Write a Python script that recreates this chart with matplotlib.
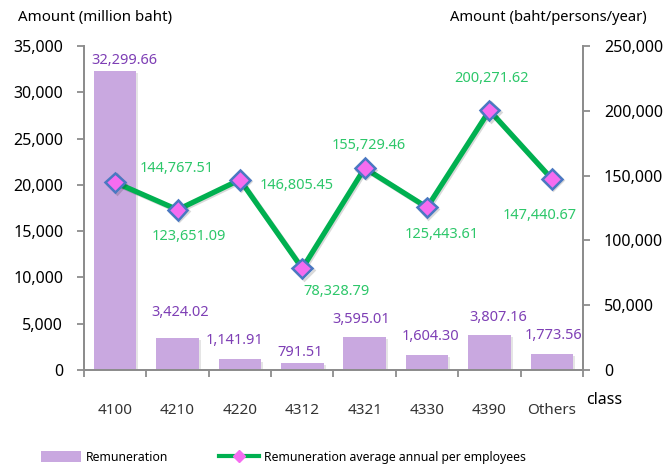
import matplotlib
matplotlib.use("Agg")
import matplotlib.pyplot as plt
import matplotlib.patheffects as pe
from matplotlib.lines import Line2D
from matplotlib.patches import Patch
import numpy as np

# data
classes = ["4100", "4210", "4220", "4312", "4321", "4330", "4390", "Others"]
remuneration = [32299.66, 3424.02, 1141.91, 791.51, 3595.01, 1604.30, 3807.16, 1773.56]
avg_per_employee = [144767.51, 123651.09, 146805.45, 78328.79, 155729.46,
                    125443.61, 200271.62, 147440.67]

# label placement relative to the mark, in pixels (dx right, dy up)
bar_label_offsets = [(9, 10), (3, 26), (-5, 19), (-2, 10), (-3, 17), (3, 19), (9, 17), (2, 18)]
line_label_offsets = [(62, 14), (11, -27), (57, -6), (34, -23), (4, 23), (15, -27), (2, 32), (-12, -37)]

bar_color = "#C9A8E0"
bar_text = "#7E3FB5"
line_color = "#00B050"
line_text = "#2DC76A"
spine_gray = "#8C8C8C"
PX = 0.72  # points per pixel at dpi 100

plt.rcParams["font.family"] = ["Noto Sans", "DejaVu Sans"]

fig = plt.figure(figsize=(6.64, 4.67), dpi=100)
ax = fig.add_axes([0.1265, 0.2077, 0.7515, 0.6938])
ax2 = ax.twinx()

x = np.arange(len(classes))
bars = ax.bar(x, remuneration, width=0.68, color=bar_color, zorder=2)
for b in bars:
    b.set_path_effects([pe.SimplePatchShadow(offset=(1.5, -1.5), alpha=0.25, shadow_rgbFace="#999999"),
                        pe.Normal()])

for xi, v, (dx, dy) in zip(x, remuneration, bar_label_offsets):
    ax.annotate(f"{v:,.2f}", (xi, v), xytext=(dx * PX, dy * PX), textcoords="offset points",
                ha="center", va="center", color=bar_text, fontsize=10.5)

ax2.plot(x, avg_per_employee, color=line_color, lw=3.8, marker="D", markersize=10,
         markerfacecolor="#F56CF0", markeredgecolor="#4A78C2", markeredgewidth=1.8, zorder=3,
         path_effects=[pe.SimpleLineShadow(offset=(1, -1), alpha=0.15), pe.Normal()])
for xi, v, (dx, dy) in zip(x, avg_per_employee, line_label_offsets):
    ax2.annotate(f"{v:,.2f}", (xi, v), xytext=(dx * PX, dy * PX), textcoords="offset points",
                 ha="center", va="center", color=line_text, fontsize=10.5)

ax.set_xlim(-0.5, len(classes) - 0.5)
ax.set_ylim(0, 35000)
ax2.set_ylim(0, 250000)
ax.set_yticks(np.arange(0, 35001, 5000))
ax2.set_yticks(np.arange(0, 250001, 50000))
ax.yaxis.set_major_formatter(matplotlib.ticker.StrMethodFormatter("{x:,.0f}"))
ax2.yaxis.set_major_formatter(matplotlib.ticker.StrMethodFormatter("{x:,.0f}"))

ax.set_xticks(x)
ax.set_xticklabels(classes)
ax.set_xticks(np.arange(-0.5, len(classes), 1), minor=True)
ax.tick_params(axis="x", which="major", length=0, pad=24, labelsize=11, labelcolor="#333333")
ax.tick_params(axis="x", which="minor", length=5, width=1.3, color=spine_gray)
ax.tick_params(axis="y", length=5, width=1.3, color=spine_gray, labelsize=11.5, pad=10)
ax2.tick_params(axis="y", length=5, width=1.3, color=spine_gray, labelsize=11.5, pad=10)

for a in (ax, ax2):
    a.spines["top"].set_visible(False)
    for s in ("left", "right", "bottom"):
        a.spines[s].set_color(spine_gray)
        a.spines[s].set_linewidth(1.3)

fig.text(0.027, 0.963, "Amount (million baht)", fontsize=10.8, ha="left", va="center")
fig.text(0.678, 0.963, "Amount (baht/persons/year)", fontsize=10.6, ha="left", va="center")
fig.text(0.882, 0.143, "class", fontsize=11.5, fontweight="bold", ha="left", va="center")

handles = [Patch(facecolor=bar_color, edgecolor="none"),
           Line2D([], [], color=line_color, lw=3, marker="D", markersize=6,
                  markerfacecolor="#F56CF0", markeredgecolor="#F56CF0")]
fig.legend(handles, ["Remuneration", "Remuneration average annual per employees"],
           loc="center left", bbox_to_anchor=(0.058, 0.021), ncol=2, frameon=False,
           fontsize=8.8, handlelength=3.3, handleheight=1.1, columnspacing=4.1,
           handletextpad=0.4, borderpad=0.2, borderaxespad=0)

fig.savefig("out.png", dpi=100)
